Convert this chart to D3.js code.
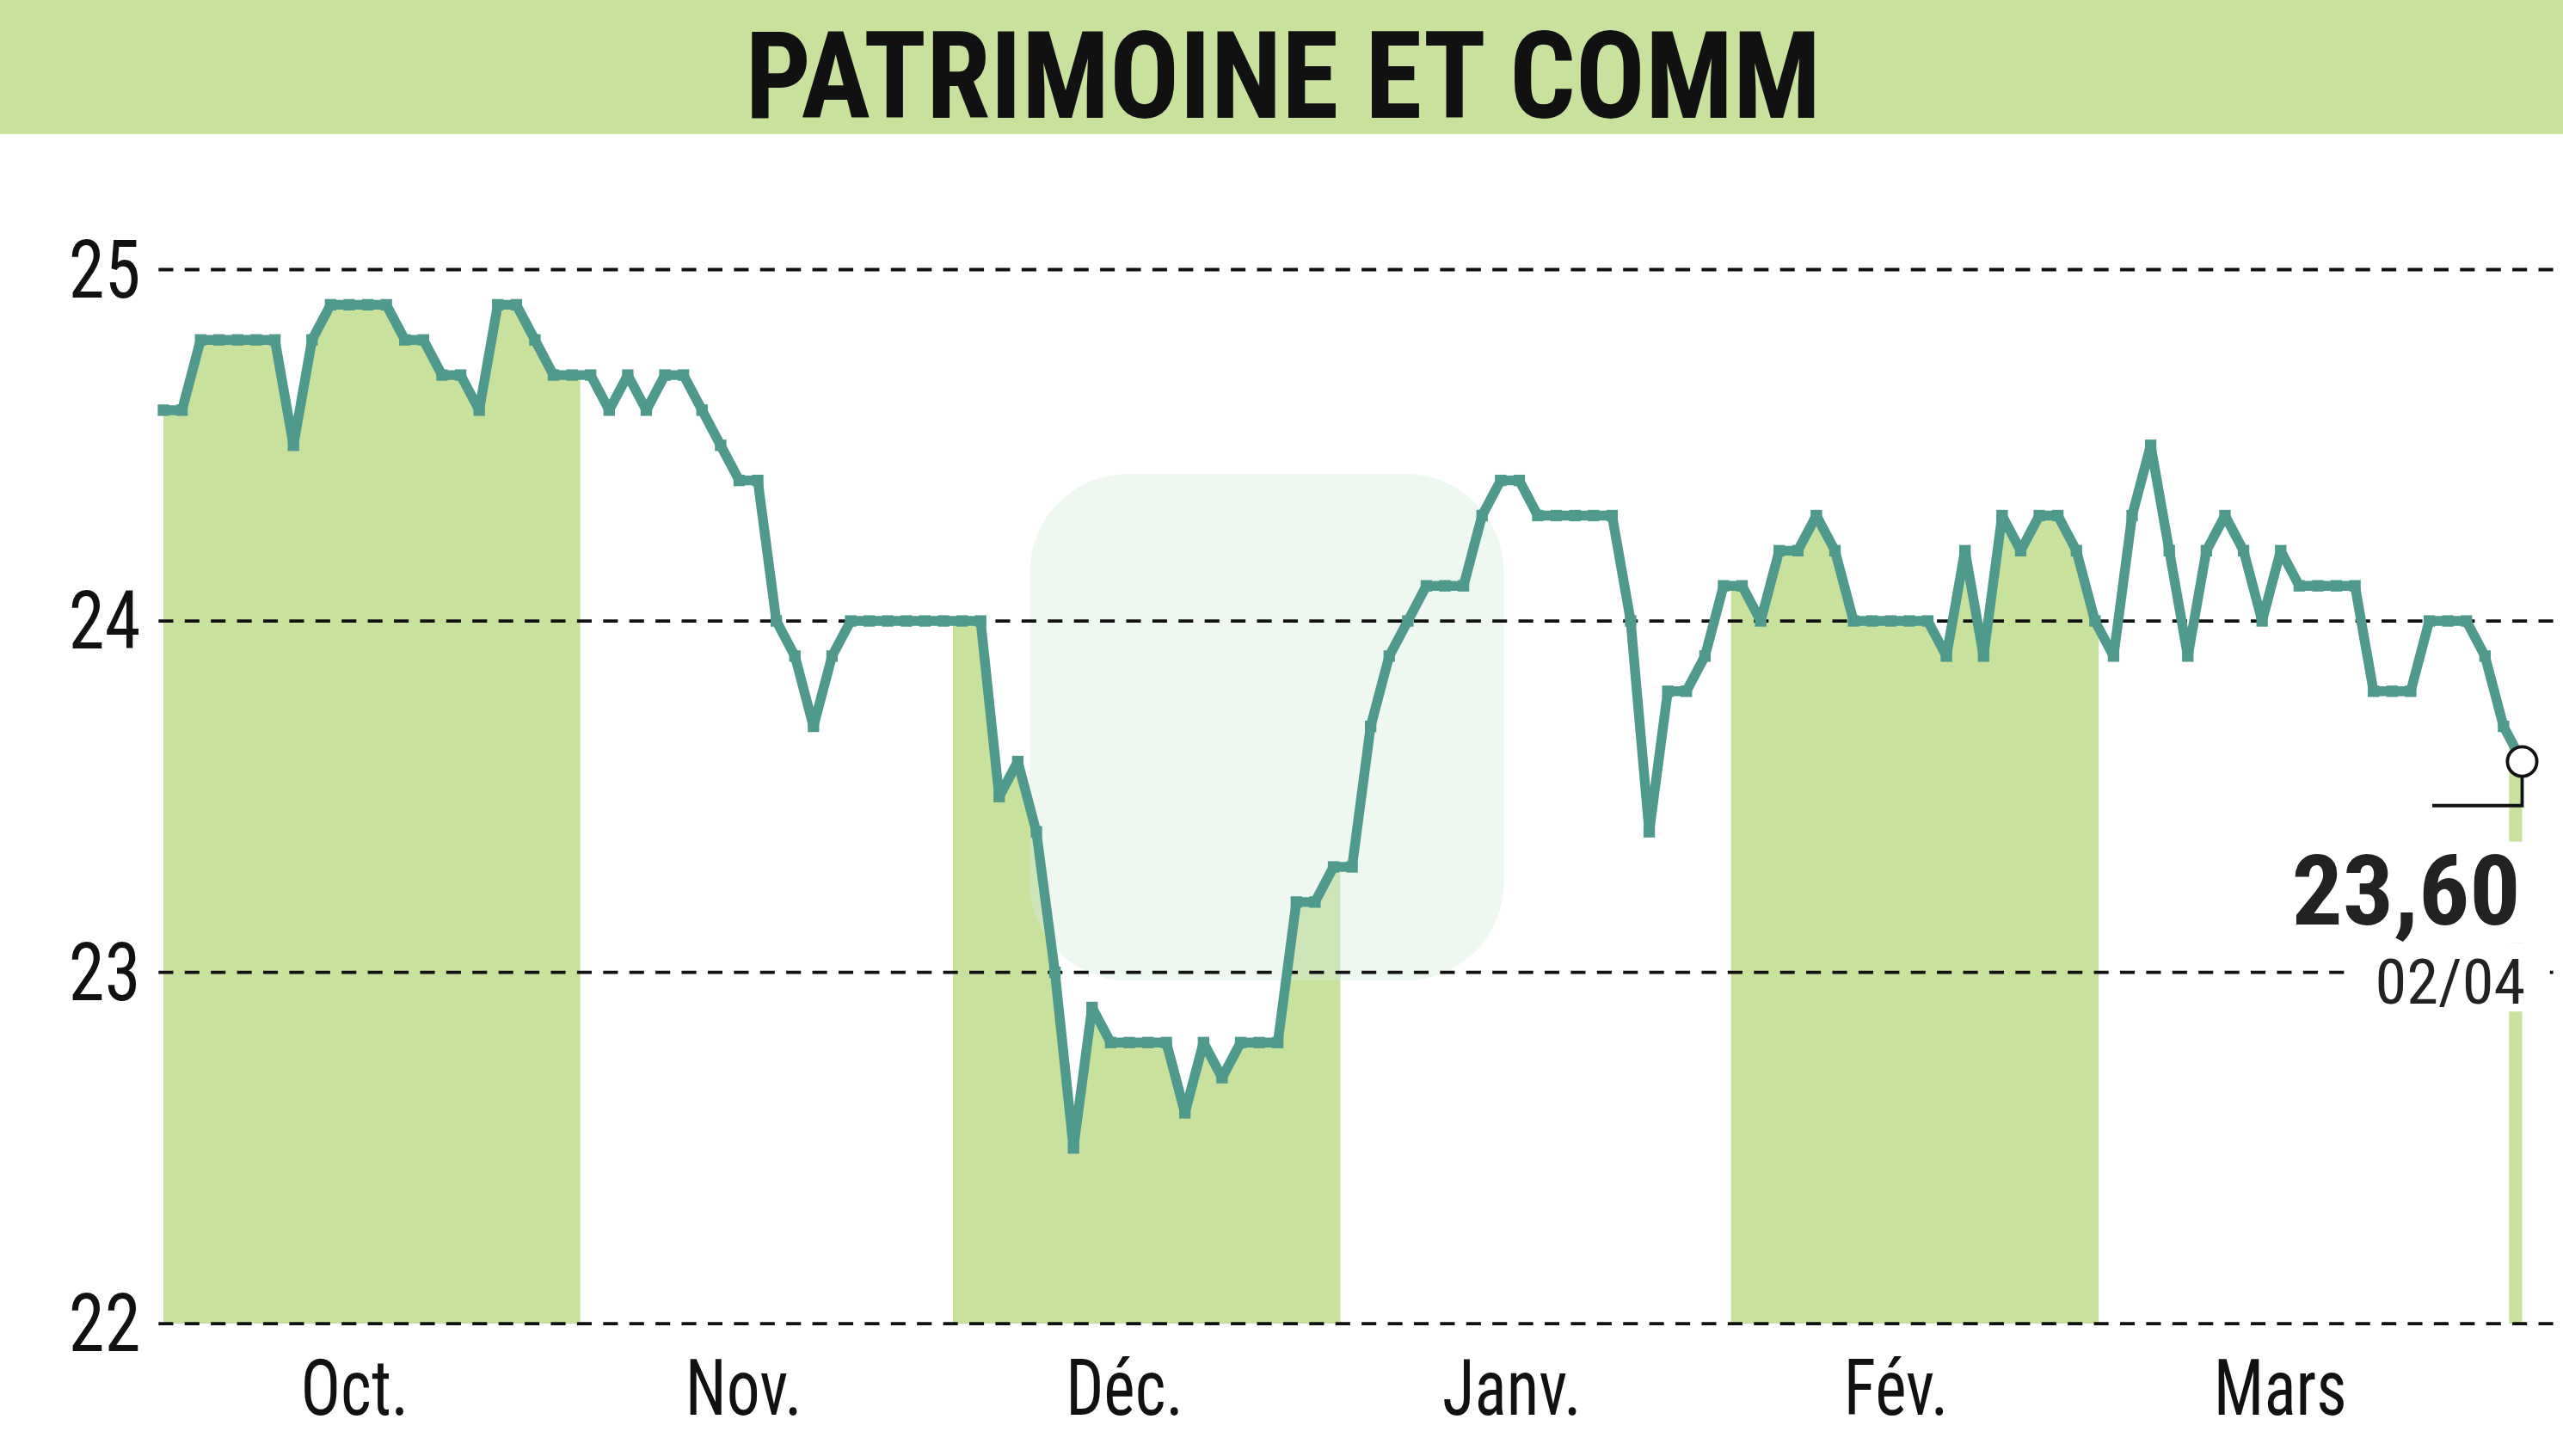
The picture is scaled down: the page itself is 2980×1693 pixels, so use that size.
<!DOCTYPE html>
<html><head><meta charset="utf-8">
<script src="https://cdn.jsdelivr.net/npm/d3@7"></script>
<style>html,body{margin:0;padding:0;background:#fff;overflow:hidden}</style>
</head><body>
<svg id="c" width="2980" height="1693" viewBox="0 0 1568 891" preserveAspectRatio="none"></svg>
<script>
const title = "PATRIMOINE ET COMM";
const values = [24.6,24.6,24.8,24.8,24.8,24.8,24.8,24.5,24.8,24.9,24.9,24.9,24.9,24.8,24.8,24.7,24.7,24.6,24.9,24.9,24.8,24.7,24.7,24.7,24.6,24.7,24.6,24.7,24.7,24.6,24.5,24.4,24.4,24.0,23.9,23.7,23.9,24.0,
24.0,24.0,24.0,24.0,24.0,24.0,24.0,23.5,23.6,23.4,23.0,22.5,22.9,22.8,22.8,22.8,22.8,22.6,22.8,22.7,22.8,22.8,22.8,23.2,23.2,23.3,23.3,23.7,23.9,24.0,24.1,24.1,24.1,24.3,24.4,24.4,24.3,24.3,24.3,24.3,24.3,24.0,23.4,23.8,23.8,23.9,24.1,24.1,24.0,24.2,24.2,24.3,24.2,24.0,24.0,24.0,24.0,24.0,23.9,24.2,23.9,24.3,24.2,24.3,24.3,24.2,24.0,23.9,24.3,24.5,24.2,23.9,24.2,24.3,24.2,24.0,24.2,24.1,24.1,24.1,24.1,23.8,23.8,23.8,24.0,24.0,24.0,23.9,23.7,23.6];
const yTicks = [22,23,24,25];
const months = ["Oct.","Nov.","Déc.","Janv.","Fév.","Mars"];
const monthCenters = [217,455,688,925,1160,1395];
const shadeBands = [[97,355],[583,820],[1059,1284],[1535,1545]];
const lastLabel = "23,60", lastDate = "02/04";

const svg = d3.select("#c");
const font = "'Liberation Sans Narrow','Roboto Condensed','DejaVu Sans Condensed',sans-serif";
const x = d3.scaleLinear().domain([0, values.length-1]).range([100,1543]);
const y = d3.scaleLinear().domain([22,25]).range([810,165]);

svg.append("rect").attr("x",0).attr("y",0).attr("width",1568).attr("height",82).attr("fill","#c8e29e");
svg.append("text").text(title).attr("x",785).attr("y",72).attr("text-anchor","middle")
  .attr("font-family",font).attr("font-weight","bold").attr("font-size",74)
  .attr("textLength",658).attr("lengthAdjust","spacingAndGlyphs").attr("fill","#111");

const defs = svg.append("defs");
const cp = defs.append("clipPath").attr("id","bands");
shadeBands.forEach(b=>cp.append("rect").attr("x",b[0]).attr("y",0).attr("width",b[1]-b[0]).attr("height",900));
svg.append("path").datum(values).attr("clip-path","url(#bands)").attr("fill","#c8e29e")
  .attr("d", d3.area().x((d,i)=>x(i)).y0(810).y1(d=>y(d)));

// watermark
svg.append("rect").attr("x",630).attr("y",290).attr("width",290).attr("height",310).attr("rx",60)
  .attr("fill","#d8ebdc").attr("opacity",0.4);

svg.append("g").selectAll("line").data(yTicks).join("line")
  .attr("x1",97).attr("x2",1568).attr("y1",d=>y(d)).attr("y2",d=>y(d))
  .attr("stroke","#111").attr("stroke-width",2).attr("stroke-dasharray","9,7");
svg.append("g").selectAll("text").data(yTicks).join("text").text(d=>d)
  .attr("x",86).attr("y",d=>y(d)+17).attr("text-anchor","end")
  .attr("font-family",font).attr("font-size",50).attr("fill","#111")
  .attr("textLength",44).attr("lengthAdjust","spacingAndGlyphs");
svg.append("g").selectAll("text").data(months).join("text").text(d=>d)
  .attr("x",(d,i)=>monthCenters[i]).attr("y",866).attr("text-anchor","middle")
  .attr("font-family",font).attr("font-size",48).attr("fill","#111")
  .attr("transform",(d,i)=>`translate(${monthCenters[i]},0) scale(0.85,1) translate(${-monthCenters[i]},0)`);

svg.append("path").datum(values).attr("fill","none").attr("stroke","#4f9a8c").attr("stroke-width",6)
  .attr("stroke-linejoin","round").attr("d", d3.line().x((d,i)=>x(i)).y(d=>y(d)));
svg.append("g").selectAll("rect").data(values).join("rect")
  .attr("x",(d,i)=>x(i)-3.5).attr("y",d=>y(d)-3.5).attr("width",7).attr("height",7).attr("fill","#4f9a8c");

const lx = x(values.length-1), ly = y(values[values.length-1]);
svg.append("rect").attr("x",1395).attr("y",515).attr("width",160).attr("height",62).attr("fill","#fff");
svg.append("rect").attr("x",1440).attr("y",577).attr("width",120).attr("height",42).attr("fill","#fff");
svg.append("path").attr("d",`M${lx},${ly} V493 H1488`).attr("fill","none").attr("stroke","#111").attr("stroke-width",2);
svg.append("circle").attr("cx",lx).attr("cy",ly).attr("r",9).attr("fill","#fff").attr("stroke","#111").attr("stroke-width",2);
svg.append("text").text(lastLabel).attr("x",1542).attr("y",566).attr("text-anchor","end")
  .attr("font-family",font).attr("font-weight","bold").attr("font-size",60).attr("fill","#222")
  .attr("textLength",140).attr("lengthAdjust","spacingAndGlyphs");
svg.append("text").text(lastDate).attr("x",1545).attr("y",614).attr("text-anchor","end")
  .attr("font-family",font).attr("font-size",38).attr("fill","#222")
  .attr("textLength",92).attr("lengthAdjust","spacingAndGlyphs");
</script>
</body></html>
